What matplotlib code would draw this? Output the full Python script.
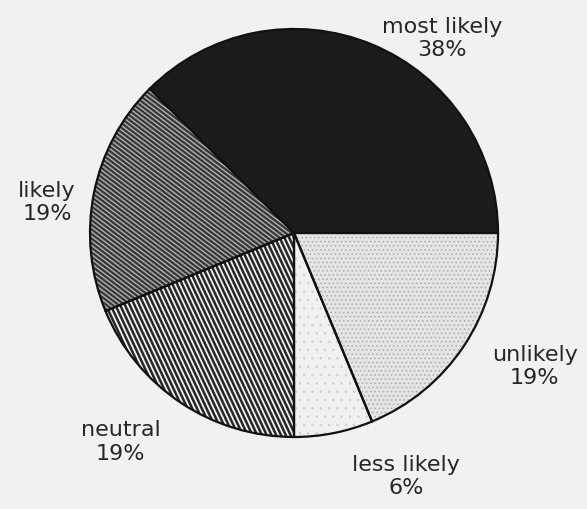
import numpy as np
import matplotlib
matplotlib.use("Agg")
import matplotlib.pyplot as plt
from matplotlib.collections import LineCollection

# ── Data (shares of 16 responses) ─────────────────────────────────────────────
CATEGORIES = ["most likely", "likely", "neutral", "less likely", "unlikely"]
COUNTS     = [6, 3, 3, 1, 3]
PCT_TEXT   = ["38%", "19%", "19%", "6%", "19%"]

# label anchor positions in pie-radius units
LABEL_POS = [(0.725, 0.96), (-1.21, 0.155), (-0.85, -1.02), (0.55, -1.19), (1.18, -0.65)]

FACES  = ["#1c1c1c", "#383838", "#f0f0f0", "#f0f0f0", "#e4e4e4"]
BG     = "#f1f1f1"
TXT    = "#262626"

plt.rcParams["hatch.linewidth"] = 0.6

fig = plt.figure(figsize=(5.87, 5.10), dpi=100)
fig.patch.set_facecolor(BG)
ax = fig.add_axes([0, 0, 1, 1])
ax.set_facecolor(BG)

wedges, _ = ax.pie(COUNTS, startangle=0, counterclock=True, radius=1,
                   colors=FACES, wedgeprops=dict(linewidth=0))


def stripes(wedge, angle_deg, spacing, color, lw):
    th = np.deg2rad(angle_deg)
    d = np.array([np.cos(th), np.sin(th)])
    n = np.array([-np.sin(th), np.cos(th)])
    segs = [[n * k - 1.6 * d, n * k + 1.6 * d] for k in np.arange(-1.6, 1.6, spacing)]
    lc = LineCollection(segs, colors=color, linewidths=lw, zorder=2)
    ax.add_collection(lc)
    lc.set_clip_path(wedge)


# likely: dark with light diagonal lines; neutral: light with steep dark lines
stripes(wedges[1], -37, 0.0180, "#b0b0b0", 1.0)
stripes(wedges[2], -65, 0.0212, "#262626", 1.8)

# stipple for the two light slices
wedges[4].set_hatch("....")
wedges[4].set_edgecolor("#aaaaaa")
wedges[3].set_hatch("..")
wedges[3].set_edgecolor("#d0d0d0")

# outlines on top
outl, _ = ax.pie(COUNTS, startangle=0, counterclock=True, radius=1,
                 wedgeprops=dict(fill=False, edgecolor="#111111", linewidth=1.6))
for w in outl:
    w.set_zorder(3)

for (x, y), name, pct in zip(LABEL_POS, CATEGORIES, PCT_TEXT):
    ax.text(x, y, f"{name}\n{pct}", ha="center", va="center", fontsize=16,
            color=TXT, linespacing=1.2, family="DejaVu Sans")

ax.set_aspect("equal")
ax.set_xlim(-1.441, 1.436)
ax.set_ylim(-1.353, 1.147)
ax.axis("off")

fig.savefig("out.png", dpi=100, facecolor=fig.get_facecolor())
